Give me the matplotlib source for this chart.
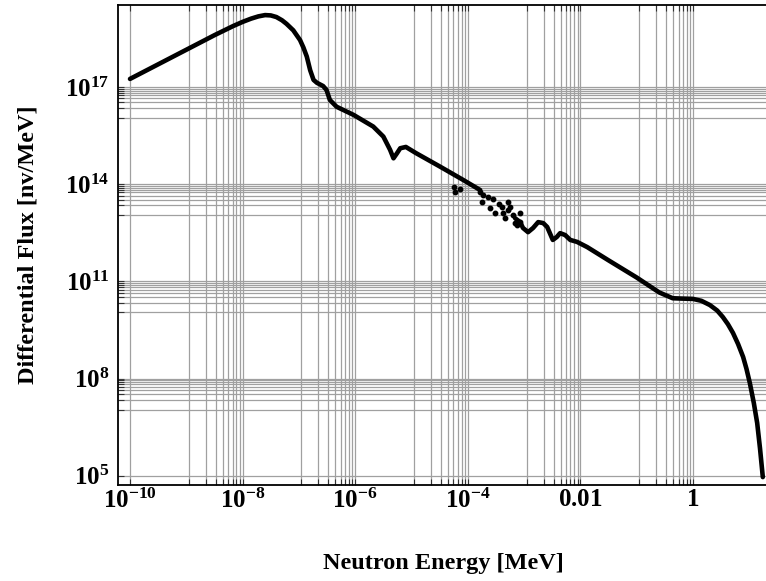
import numpy as np
import matplotlib
matplotlib.use("Agg")
import matplotlib.pyplot as plt
from matplotlib.ticker import FixedLocator, FixedFormatter, NullFormatter

# spectrum, as log10 values (NaN breaks the line)
log_e = [-10.0, -9.5, -9.0, -8.5, -8.17, -8.0, -7.85, -7.72, -7.6, -7.5,
         -7.4, -7.3, -7.22, -7.10, -6.98, -6.92, -6.86, -6.80, -6.74, -6.68,
         -6.57, -6.51, -6.45, -6.33, -6.03, -5.68, -5.50, -5.38, -5.32, -5.26,
         -5.20, -5.10, -4.92, -4.5, -4.1, -3.78, np.nan,
         -3.16, -3.07, -3.02, -2.93, -2.84, -2.75, -2.66, -2.59, -2.49, -2.42,
         -2.36, -2.27, -2.18, -2.06, -1.88, -1.5, -1.0, -0.6, -0.36, -0.2,
         0.0, 0.15, 0.30, 0.43, 0.53, 0.62, 0.71, 0.80, 0.89, 0.95,
         1.01, 1.08, 1.14, 1.19, 1.24]
log_f = [17.25, 17.70, 18.15, 18.60, 18.88, 19.01, 19.11, 19.18, 19.22, 19.21,
         19.16, 19.06, 18.95, 18.75, 18.45, 18.22, 17.94, 17.52, 17.22, 17.13,
         17.03, 16.91, 16.60, 16.39, 16.14, 15.78, 15.47, 15.06, 14.80, 14.95,
         15.11, 15.15, 14.96, 14.55, 14.15, 13.82, np.nan,
         12.95, 12.83, 12.65, 12.52, 12.65, 12.83, 12.80, 12.68, 12.28, 12.37,
         12.49, 12.43, 12.28, 12.22, 12.06, 11.65, 11.12, 10.66, 10.48, 10.47,
         10.46, 10.40, 10.27, 10.10, 9.90, 9.68, 9.41, 9.07, 8.67, 8.30,
         7.86, 7.25, 6.63, 5.85, 4.96]

# scattered resonance points
dots_log_e = [-4.25, -4.23, -4.14, -3.78, -3.73, -3.75, -3.64, -3.61, -3.52, -3.39,
              -3.37, -3.34, -3.29, -3.25, -3.29, -3.16, -3.13, -3.07, -3.07, -3.55,
              -3.45, -3.20]
dots_log_f = [13.91, 13.76, 13.85, 13.76, 13.67, 13.45, 13.60, 13.27, 13.11, 13.30,
              13.11, 12.96, 13.45, 13.30, 13.20, 12.80, 12.74, 12.83, 13.11, 13.55,
              13.40, 13.05]

x_major = [1e-10, 1e-8, 1e-6, 1e-4, 1e-2, 1.0]
x_labels = [r"$\mathbf{10^{-10}}$", r"$\mathbf{10^{-8}}$", r"$\mathbf{10^{-6}}$",
            r"$\mathbf{10^{-4}}$", r"$\mathbf{0.01}$", r"$\mathbf{1}$"]
y_major = [1e5, 1e8, 1e11, 1e14, 1e17]
y_labels = [r"$\mathbf{10^{5}}$", r"$\mathbf{10^{8}}$", r"$\mathbf{10^{11}}$",
            r"$\mathbf{10^{14}}$", r"$\mathbf{10^{17}}$"]

plt.rcParams["font.family"] = ["Liberation Serif", "DejaVu Serif"]
plt.rcParams["mathtext.fontset"] = "custom"
plt.rcParams["mathtext.rm"] = "Liberation Serif"
plt.rcParams["mathtext.bf"] = "Liberation Serif:bold"
plt.rcParams["mathtext.it"] = "Liberation Serif:italic"

fig = plt.figure(figsize=(7.66, 5.81), dpi=100)
ax = fig.add_axes([118 / 766, 96 / 581, 1 - 118 / 766, 480 / 581])

energy = 10.0 ** np.array(log_e)
flux = 10.0 ** np.array(log_f)
ax.plot(energy, flux, color="black", lw=3.3, solid_capstyle="round",
        solid_joinstyle="round", zorder=3)
ax.plot(10.0 ** np.array(dots_log_e), 10.0 ** np.array(dots_log_f), "o",
        color="black", ms=3.2, zorder=3)

ax.set_xscale("log")
ax.set_yscale("log")
ax.set_xlim(6.12e-11, 19.8)
ax.set_ylim(5.2e4, 3.4e19)

# grid lines at each labelled decade split into ninths
x_minor = [t * j / 9 for t in x_major[1:] for j in range(1, 9)]
y_minor = [t * j / 9 for t in y_major[1:] for j in range(1, 9)]

ax.xaxis.set_major_locator(FixedLocator(x_major))
ax.xaxis.set_major_formatter(FixedFormatter(x_labels))
ax.xaxis.set_minor_locator(FixedLocator(x_minor))
ax.xaxis.set_minor_formatter(NullFormatter())
ax.yaxis.set_major_locator(FixedLocator(y_major))
ax.yaxis.set_major_formatter(FixedFormatter(y_labels))
ax.yaxis.set_minor_locator(FixedLocator(y_minor))
ax.yaxis.set_minor_formatter(NullFormatter())

ax.grid(which="both", color="#a0a0a0", lw=0.9)
ax.set_axisbelow(True)
ax.tick_params(which="both", direction="in", top=True, right=False,
               length=4, width=0.8, color="#333333")
ax.tick_params(axis="x", which="major", labelsize=18, pad=3)
ax.tick_params(axis="y", which="major", labelsize=18, pad=6)
ax.spines["right"].set_visible(False)
for s in ("left", "bottom", "top"):
    ax.spines[s].set_linewidth(1.3)

fig.text(443 / 766, 1 - 563 / 581, "Neutron Energy [MeV]", ha="center",
         va="center", fontsize=17.5, fontweight="bold")
fig.text(28 / 766, 1 - 245 / 581, "Differential Flux [nv/MeV]", ha="center",
         va="center", rotation=90, fontsize=17.5, fontweight="bold")

fig.savefig("out.png", dpi=100)
